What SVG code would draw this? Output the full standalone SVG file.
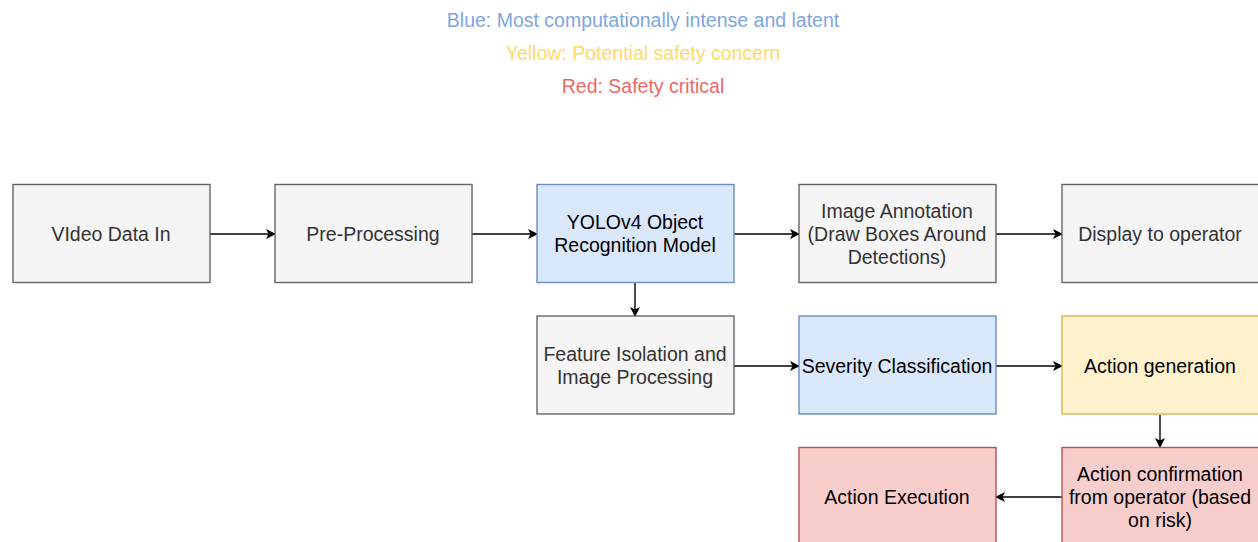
<svg xmlns="http://www.w3.org/2000/svg" width="1258" height="542" viewBox="0 0 1258 542">
<style>
text{font-family:"Liberation Sans",Arial,sans-serif;font-size:19.5px;text-anchor:middle}
.g{fill:#f5f5f5;stroke:#666666;stroke-width:1.4}
.b{fill:#dae8fc;stroke:#6c8ebf;stroke-width:1.4}
.y{fill:#fff2cc;stroke:#d6b656;stroke-width:1.4}
.r{fill:#f8cecc;stroke:#b85450;stroke-width:1.4}
.tg{fill:#333333}
.tk{fill:#000000}
.c{stroke:#000;stroke-width:1.4;fill:none;marker-end:url(#a)}
</style>
<defs>
<marker id="a" viewBox="0 0 10 10" refX="9" refY="5" markerWidth="10" markerHeight="10" markerUnits="userSpaceOnUse" orient="auto">
<path d="M0,0 L10,5 L0,10 L2.5,5 Z" fill="#000"/>
</marker>
</defs>
<rect width="1258" height="542" fill="#fff"/>
<g id="legend">
<text x="643" y="27" fill="#7ea6e0">Blue: Most computationally intense and latent</text>
<text x="643" y="60" fill="#ffd966">Yellow: Potential safety concern</text>
<text x="643" y="93" fill="#ea6b66">Red: Safety critical</text>
</g>
<g id="connectors">
<path class="c" d="M210,234 H275"/>
<path class="c" d="M472,234 H537"/>
<path class="c" d="M734,234 H799"/>
<path class="c" d="M996,234 H1062"/>
<path class="c" d="M635,283 V316"/>
<path class="c" d="M734,366 H799"/>
<path class="c" d="M996,366 H1062"/>
<path class="c" d="M1160,415 V447"/>
<path class="c" d="M1062,497 H996"/>
</g>
<g id="video"><rect class="g" x="13" y="184.5" width="197" height="98"/><text class="tg" x="111" y="241">VIdeo Data In</text></g>
<g id="preprocessing"><rect class="g" x="275" y="184.5" width="197" height="98"/><text class="tg" x="373" y="241">Pre-Processing</text></g>
<g id="yolo"><rect class="b" x="537" y="184.5" width="197" height="98"/><text class="tk" x="635" y="229">YOLOv4 Object</text><text class="tk" x="635" y="252">Recognition Model</text></g>
<g id="annotation"><rect class="g" x="799" y="184.5" width="197" height="98"/><text class="tg" x="897" y="218">Image Annotation</text><text class="tg" x="897" y="241">(Draw Boxes Around</text><text class="tg" x="897" y="264">Detections)</text></g>
<g id="display"><rect class="g" x="1062" y="184.5" width="197" height="98"/><text class="tg" x="1160" y="241">Display to operator</text></g>
<g id="feature"><rect class="g" x="537" y="316" width="197" height="98"/><text class="tg" x="635" y="361">Feature Isolation and</text><text class="tg" x="635" y="384">Image Processing</text></g>
<g id="severity"><rect class="b" x="799" y="316" width="197" height="98"/><text class="tk" x="897" y="373">Severity Classification</text></g>
<g id="actiongen"><rect class="y" x="1062" y="316" width="197" height="98"/><text class="tk" x="1160" y="373">Action generation</text></g>
<g id="execution"><rect class="r" x="799" y="447.5" width="197" height="98"/><text class="tk" x="897" y="504">Action Execution</text></g>
<g id="confirmation"><rect class="r" x="1062" y="447.5" width="197" height="98"/><text class="tk" x="1160" y="481">Action confirmation</text><text class="tk" x="1160" y="504">from operator (based</text><text class="tk" x="1160" y="527">on risk)</text></g>
</svg>
